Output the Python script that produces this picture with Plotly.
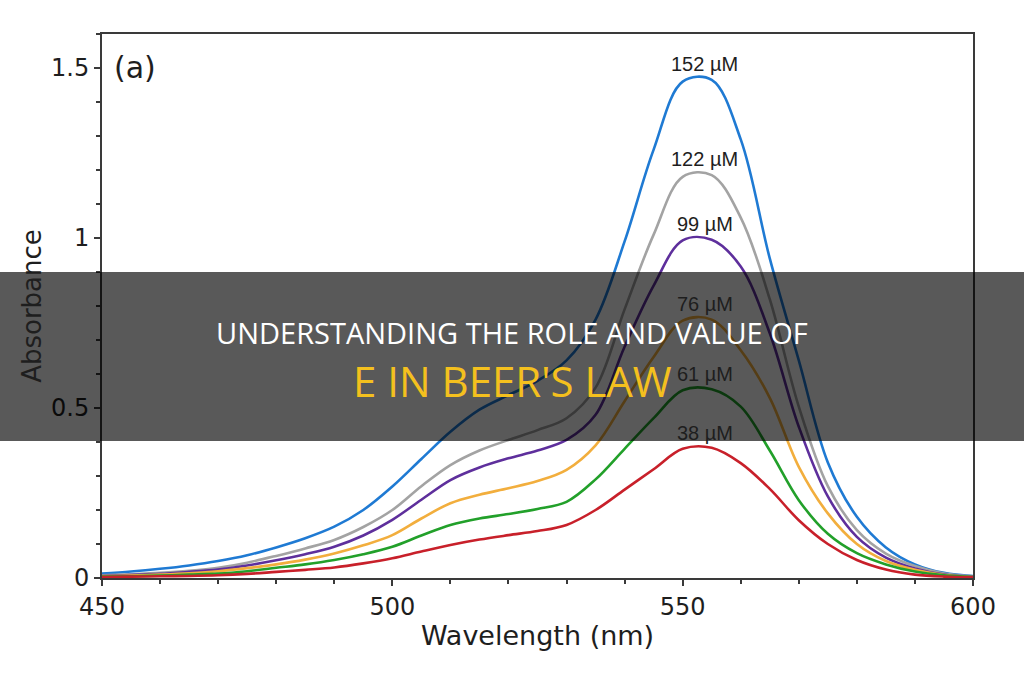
import plotly.graph_objects as go

# ---- data ----
wavelength = [450, 455, 460, 465, 470, 475, 480, 485, 490, 495, 500, 505, 510, 515, 520, 525,
              530, 535, 540, 545, 550, 555, 560, 565, 570, 575, 580, 585, 590, 595, 600]

abs_152 = [0.013, 0.019, 0.027, 0.037, 0.050, 0.067, 0.090, 0.117, 0.151, 0.200, 0.269, 0.350, 0.430, 0.495, 0.538, 0.580,
           0.640, 0.760, 0.990, 1.260, 1.460, 1.465, 1.290, 0.940, 0.640, 0.340, 0.180, 0.090, 0.040, 0.015, 0.006]
abs_122 = [0.008, 0.011, 0.015, 0.021, 0.030, 0.045, 0.065, 0.087, 0.112, 0.150, 0.200, 0.270, 0.332, 0.375, 0.406, 0.435,
           0.470, 0.560, 0.790, 1.010, 1.180, 1.185, 1.060, 0.820, 0.504, 0.270, 0.141, 0.072, 0.035, 0.013, 0.005]
abs_99 = [0.006, 0.009, 0.012, 0.018, 0.025, 0.037, 0.052, 0.070, 0.092, 0.125, 0.171, 0.230, 0.288, 0.325, 0.352, 0.375,
          0.406, 0.480, 0.680, 0.860, 0.993, 0.995, 0.916, 0.720, 0.445, 0.240, 0.121, 0.060, 0.028, 0.010, 0.004]
abs_76 = [0.005, 0.007, 0.010, 0.014, 0.020, 0.029, 0.040, 0.054, 0.072, 0.096, 0.126, 0.175, 0.220, 0.245, 0.264, 0.285,
          0.318, 0.390, 0.520, 0.650, 0.757, 0.760, 0.670, 0.530, 0.327, 0.190, 0.100, 0.050, 0.024, 0.009, 0.003]
abs_61 = [0.004, 0.005, 0.007, 0.010, 0.013, 0.020, 0.030, 0.040, 0.053, 0.070, 0.092, 0.125, 0.156, 0.175, 0.188, 0.203,
          0.224, 0.290, 0.380, 0.470, 0.552, 0.555, 0.504, 0.375, 0.229, 0.130, 0.073, 0.040, 0.019, 0.008, 0.003]
abs_38 = [0.003, 0.004, 0.005, 0.006, 0.008, 0.012, 0.018, 0.024, 0.031, 0.043, 0.058, 0.078, 0.097, 0.113, 0.126, 0.138,
          0.156, 0.200, 0.260, 0.320, 0.380, 0.383, 0.338, 0.262, 0.170, 0.100, 0.053, 0.025, 0.010, 0.004, 0.002]

series_labels = ["152 µM", "122 µM", "99 µM", "76 µM", "61 µM", "38 µM"]
series_values = [abs_152, abs_122, abs_99, abs_76, abs_61, abs_38]
series_colors = ["#1f7ad3", "#a3a3a3", "#5e2f9c", "#f2ae3d", "#22a02a", "#c8202a"]
# peak positions (used to place the concentration labels)
peak_wavelength = [553.5, 553.5, 553.5, 553.5, 553.5, 553.5]
peak_absorbance = [1.470, 1.190, 1.000, 0.764, 0.558, 0.386]

x_ticks = [450, 500, 550, 600]
y_ticks = [0, 0.5, 1, 1.5]
y_ticktext = ["0", "0.5", "1", "1.5"]

title_line1 = "UNDERSTANDING THE ROLE AND VALUE OF"
title_line2 = "E IN BEER'S LAW"
panel_label = "(a)"

fig = go.Figure()
annotations = []
for name, vals, col, px, py in zip(series_labels, series_values, series_colors, peak_wavelength, peak_absorbance):
    fig.add_trace(go.Scatter(x=wavelength, y=vals, mode="lines", name=name,
                             line=dict(color=col, width=2.6, shape="spline", smoothing=1.0),
                             showlegend=False, hoverinfo="skip"))
    annotations.append(dict(x=px, y=py, xref="x", yref="y", text=name,
                            showarrow=False, yanchor="bottom", xanchor="center",
                            xshift=2, yshift=1,
                            font=dict(family="Liberation Sans, Arial, sans-serif", size=20, color="#1e1e1e")))

axis_color = "#3a3a3a"
tick_font = dict(family="DejaVu Sans, Verdana, sans-serif", size=24, color="#1e1e1e")
title_font = dict(family="DejaVu Sans, Verdana, sans-serif", size=26, color="#1e1e1e")

fig.update_xaxes(range=[450, 600], tickvals=x_ticks, ticks="outside", ticklen=6, tickwidth=2,
                 tickcolor=axis_color, showline=True, linecolor=axis_color, linewidth=2, mirror=True,
                 showgrid=False, zeroline=False, tickfont=tick_font,
                 minor=dict(dtick=10, ticks="outside", ticklen=4, tickwidth=2, tickcolor=axis_color, showgrid=False),
                 title=dict(text="Wavelength (nm)", font=dict(family="DejaVu Sans, Verdana, sans-serif", size=27, color="#1e1e1e"),
                            standoff=6))
fig.update_yaxes(range=[0, 1.6], tickvals=y_ticks, ticktext=y_ticktext, ticks="outside", ticklen=6, tickwidth=2,
                 tickcolor=axis_color, showline=True, linecolor=axis_color, linewidth=2, mirror=True,
                 showgrid=False, zeroline=False, tickfont=tick_font,
                 minor=dict(dtick=0.1, ticks="outside", ticklen=4, tickwidth=2, tickcolor=axis_color, showgrid=False),
                 title=dict(text="Absorbance", font=title_font, standoff=2))

# panel label
annotations.append(dict(x=0.011, y=0.975, xref="paper", yref="paper", text=panel_label, showarrow=False,
                        xanchor="left", yanchor="top",
                        font=dict(family="DejaVu Sans, Verdana, sans-serif", size=30, color="#1e1e1e")))
# banner titles
annotations.append(dict(x=(512 - 102) / 871, y=(578 - 332) / 544, xref="paper", yref="paper", text=title_line1,
                        showarrow=False, xanchor="center", yanchor="middle",
                        font=dict(family="Open Sans, sans-serif", size=29, color="#ffffff")))
annotations.append(dict(x=(512 - 102) / 871, y=(578 - 380) / 544, xref="paper", yref="paper", text=title_line2,
                        showarrow=False, xanchor="center", yanchor="middle",
                        font=dict(family="Open Sans, sans-serif", size=42, color="#f4c01e")))

fig.update_layout(
    width=1024, height=680,
    margin=dict(l=102, r=51, t=34, b=102),
    paper_bgcolor="white", plot_bgcolor="white",
    annotations=annotations,
    shapes=[dict(type="rect", xref="paper", yref="paper",
                 x0=-102 / 871, x1=(1024 - 102) / 871, y0=(578 - 441) / 544, y1=(578 - 272) / 544,
                 fillcolor="rgba(0,0,0,0.65)", line=dict(width=0), layer="above")],
)

fig.write_html("out.html")
